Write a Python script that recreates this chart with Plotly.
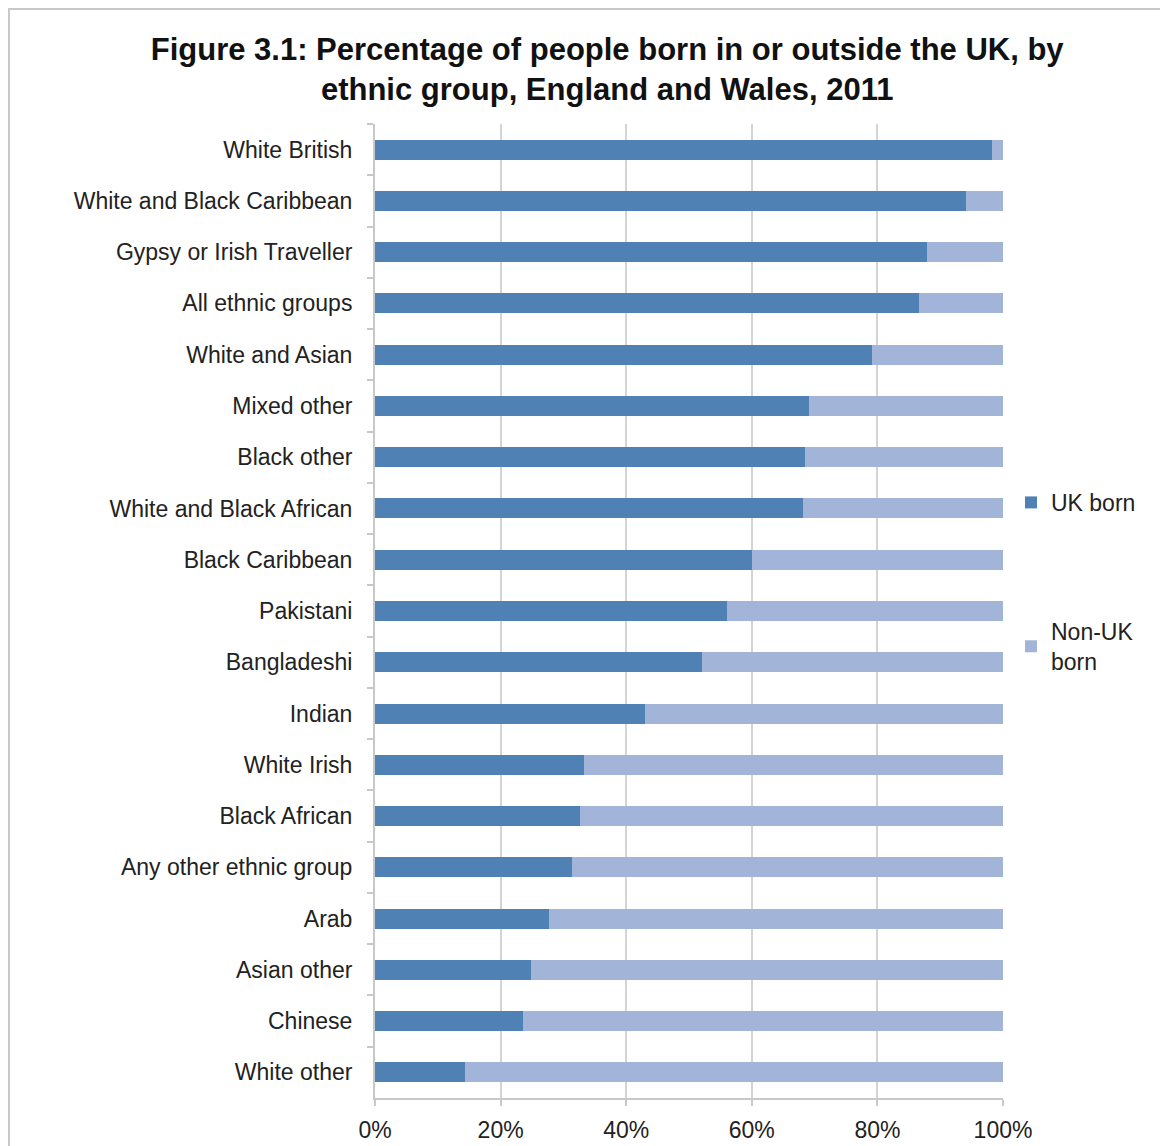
import plotly.graph_objects as go

categories = [
    "White British", "White and Black Caribbean", "Gypsy or Irish Traveller",
    "All ethnic groups", "White and Asian", "Mixed other", "Black other",
    "White and Black African", "Black Caribbean", "Pakistani", "Bangladeshi",
    "Indian", "White Irish", "Black African", "Any other ethnic group", "Arab",
    "Asian other", "Chinese", "White other",
]
uk_born = [98.2, 94.1, 87.9, 86.6, 79.1, 69.1, 68.5, 68.2, 60.0, 56.1, 52.1,
           43.0, 33.3, 32.6, 31.4, 27.7, 24.8, 23.6, 14.3]
non_uk_born = [round(100 - v, 1) for v in uk_born]
x_ticks = [0, 20, 40, 60, 80, 100]
x_tick_labels = ["0%", "20%", "40%", "60%", "80%", "100%"]

FONT = "Liberation Sans, Arial, sans-serif"
TXT = "#222222"

W, H = 1168, 1146
L, R, T, B = 367, 173, 116, 56
PW = W - L - R
PH = H - T - B

fig = go.Figure()
fig.add_trace(go.Bar(
    y=categories, x=uk_born, orientation="h", name="UK born",
    marker=dict(color="#4f81b5", line=dict(width=0)), legendgroup="a",
))
fig.add_trace(go.Bar(
    y=categories, x=non_uk_born, orientation="h", name="Non-UK<br>born",
    marker=dict(color="#a2b5d8", line=dict(width=0)), legendgroup="b",
))

fig.update_layout(
    width=W, height=H,
    barmode="stack", bargap=0.61,
    paper_bgcolor="white", plot_bgcolor="white",
    margin=dict(l=L, r=R, t=T, b=B, autoexpand=False),
    font=dict(family=FONT, color=TXT, size=23),
    title=dict(
        text="<b>Figure 3.1: Percentage of people born in or outside the UK, by<br>ethnic group, England and Wales, 2011</b>",
        x=0.513, xanchor="center", y=1 - 52 / H, yanchor="middle",
        font=dict(family=FONT, size=31, color="#111111"),
    ),
    legend=dict(
        x=1.0127, xanchor="left", y=0.6335, yanchor="top",
        traceorder="grouped", tracegroupgap=96,
        font=dict(size=23, color=TXT), itemwidth=30,
        bgcolor="rgba(0,0,0,0)",
    ),
    showlegend=True,
    shapes=[
        dict(type="line", xref="paper", yref="paper",
             x0=-L / PW, x1=(W - L) / PW,
             y0=1 + (T - 1) / PH, y1=1 + (T - 1) / PH,
             line=dict(color="#c8c8c8", width=2)),
        dict(type="line", xref="paper", yref="paper",
             x0=-(L - 1) / PW, x1=-(L - 1) / PW,
             y0=-B / PH, y1=1 + T / PH,
             line=dict(color="#c8c8c8", width=2)),
    ],
)

fig.update_xaxes(
    range=[0, 100], tickvals=x_ticks, ticktext=x_tick_labels,
    showgrid=True, gridcolor="#d4d4d4", gridwidth=2,
    showline=True, linecolor="#c8c8c8", linewidth=2,
    ticks="outside", ticklen=6, tickcolor="#c8c8c8", tickwidth=2,
    zeroline=False, tickfont=dict(size=23, color=TXT),
    ticklabelstandoff=4, fixedrange=True,
)
fig.update_yaxes(
    autorange="reversed", type="category",
    showline=True, linecolor="#c8c8c8", linewidth=2,
    ticks="outside", tickson="boundaries", ticklen=6, tickcolor="#c8c8c8", tickwidth=2,
    showgrid=False, ticklabelstandoff=16,
    tickfont=dict(size=23, color=TXT),
)

fig.write_html("out.html")
